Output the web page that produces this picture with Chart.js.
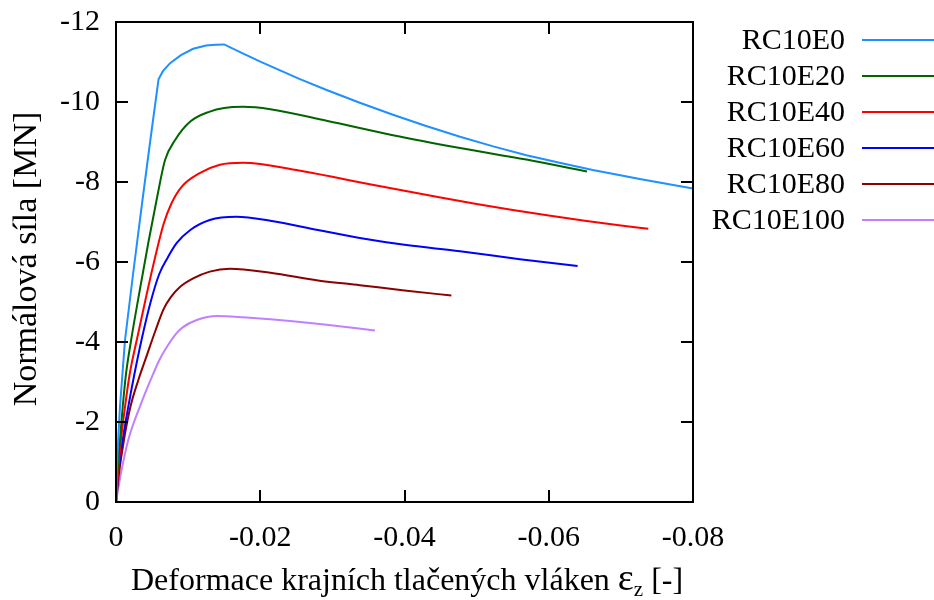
<!DOCTYPE html>
<html>
<head>
<meta charset="utf-8">
<script src="https://cdn.jsdelivr.net/npm/chart.js@4/dist/chart.umd.min.js"></script>
<style>
  html, body { margin: 0; padding: 0; background: #fff; }
  #wrap { width: 934px; height: 600px; }
</style>
</head>
<body>
<div id="wrap"><canvas id="chart" width="934" height="600"></canvas></div>
<script>
// ------------------- Data (strain [-], force [MN]) -------------------
const seriesNames = ["RC10E0", "RC10E20", "RC10E40", "RC10E60", "RC10E80", "RC10E100"];
const seriesColors = ["#1e90ff", "#006400", "#ff0000", "#0000ff", "#8b0000", "#c080ff"];

const xTicks = [0, -0.02, -0.04, -0.06, -0.08];
const yTicks = [0, -2, -4, -6, -8, -10, -12];

const e0 = [
  [0, 0], [-0.0001, -0.72], [-0.0003, -1.55], [-0.00055, -2.38], [-0.0009, -3.22],
  [-0.00125, -4.05], [-0.0024, -5.75], [-0.0036, -7.45], [-0.0048, -9.1], [-0.0059, -10.57],
  [-0.0065, -10.77], [-0.0075, -10.97], [-0.009, -11.17], [-0.0107, -11.33], [-0.0125, -11.41],
  [-0.0138, -11.43], [-0.015, -11.44], [-0.0175, -11.22], [-0.02, -11.01], [-0.0255, -10.57],
  [-0.0292, -10.3], [-0.0338, -9.98], [-0.0384, -9.68], [-0.043, -9.4], [-0.0477, -9.13],
  [-0.0523, -8.89], [-0.0569, -8.67], [-0.0615, -8.48], [-0.0661, -8.3], [-0.073, -8.06],
  [-0.08, -7.84]
];
const e20 = [
  [0, 0], [-0.00018, -0.72], [-0.00055, -1.55], [-0.00093, -2.38], [-0.0014, -3.22],
  [-0.0021, -4.05], [-0.0033, -5.3], [-0.0045, -6.5], [-0.0057, -7.62], [-0.0068, -8.55],
  [-0.0082, -9.05], [-0.0103, -9.51], [-0.013, -9.76], [-0.015, -9.85], [-0.0176, -9.88],
  [-0.0214, -9.82], [-0.0292, -9.53], [-0.0384, -9.17], [-0.0477, -8.85], [-0.0569, -8.56],
  [-0.0653, -8.26]
];
const e40 = [
  [0, 0], [-0.00028, -0.72], [-0.00069, -1.55], [-0.00125, -2.38], [-0.0019, -3.2],
  [-0.003, -4.15], [-0.0042, -5.15], [-0.0054, -6.1], [-0.0066, -6.95], [-0.0077, -7.47],
  [-0.0091, -7.88], [-0.0116, -8.22], [-0.0144, -8.43], [-0.0176, -8.48], [-0.02, -8.45],
  [-0.025, -8.3], [-0.03, -8.13], [-0.035, -7.95], [-0.04, -7.78], [-0.045, -7.61],
  [-0.05, -7.45], [-0.055, -7.3], [-0.06, -7.16], [-0.065, -7.03], [-0.07, -6.91], [-0.0738, -6.83]
];
const e60 = [
  [0, 0], [-0.00032, -0.72], [-0.00093, -1.55], [-0.0017, -2.38], [-0.0025, -3.15],
  [-0.0036, -4.1], [-0.0048, -5.0], [-0.006, -5.7], [-0.0072, -6.12], [-0.0084, -6.47],
  [-0.0103, -6.8], [-0.013, -7.05], [-0.0167, -7.13], [-0.0214, -7.03], [-0.028, -6.8],
  [-0.0338, -6.6], [-0.04, -6.43], [-0.0477, -6.27], [-0.056, -6.07], [-0.064, -5.9]
];
const e80 = [
  [0, 0], [-0.00042, -0.72], [-0.0011, -1.55], [-0.002, -2.38], [-0.0031, -3.05],
  [-0.0043, -3.68], [-0.0055, -4.3], [-0.0066, -4.82], [-0.0076, -5.12], [-0.0089, -5.38],
  [-0.0107, -5.59], [-0.013, -5.76], [-0.0158, -5.83], [-0.0214, -5.73], [-0.028, -5.54],
  [-0.0338, -5.42], [-0.04, -5.29], [-0.0465, -5.16]
];
const e100 = [
  [0, 0], [-0.00069, -0.72], [-0.0017, -1.55], [-0.0033, -2.38], [-0.0052, -3.22],
  [-0.0061, -3.58], [-0.0072, -3.92], [-0.0082, -4.18], [-0.0092, -4.36], [-0.0112, -4.55],
  [-0.014, -4.65], [-0.0176, -4.62], [-0.0214, -4.57], [-0.0292, -4.43], [-0.0359, -4.29]
];
const seriesData = [e0, e20, e40, e60, e80, e100];
// RC10E0 has sharp corners (end of elastic part, peak), so it is drawn as a polyline
const seriesSmooth = [false, true, true, true, true, true];

const FONT = "'Liberation Serif', 'Times New Roman', serif";

// ------------------- Frame, mirrored inward ticks, titles, legend -------------------
const gnuplotLook = {
  id: "gnuplotLook",
  afterDraw(chart) {
    const { ctx, chartArea: a, scales } = chart;
    const tick = 12;
    ctx.save();
    ctx.strokeStyle = "#000";
    ctx.lineWidth = 2;
    ctx.beginPath();
    xTicks.forEach(v => {
      const px = Math.round(scales.x.getPixelForValue(v));
      ctx.moveTo(px, a.bottom); ctx.lineTo(px, a.bottom - tick);
      ctx.moveTo(px, a.top); ctx.lineTo(px, a.top + tick);
    });
    yTicks.forEach(v => {
      const py = Math.round(scales.y.getPixelForValue(v));
      ctx.moveTo(a.left, py); ctx.lineTo(a.left + tick, py);
      ctx.moveTo(a.right, py); ctx.lineTo(a.right - tick, py);
    });
    ctx.stroke();
    ctx.strokeRect(a.left, a.top, a.right - a.left, a.bottom - a.top);

    ctx.fillStyle = "#000";
    // y title
    ctx.save();
    ctx.translate(27, 259);
    ctx.rotate(-Math.PI / 2);
    ctx.font = "34px " + FONT;
    ctx.textAlign = "center";
    ctx.textBaseline = "middle";
    ctx.fillText("Normálová síla [MN]", 0, 0);
    ctx.restore();

    // x title with subscript
    const part1 = "Deformace krajních tlačených vláken ";
    const eps = "ε";
    const sub = "z";
    const part2 = " [-]";
    const big = "32px " + FONT, epsF = "38px " + FONT, small = "21px " + FONT;
    ctx.textBaseline = "alphabetic";
    ctx.textAlign = "left";
    let x = 131;
    const base = 590;
    ctx.font = big; ctx.fillText(part1, x, base); x += ctx.measureText(part1).width;
    ctx.font = epsF; ctx.fillText(eps, x, base); x += ctx.measureText(eps).width;
    ctx.font = small; ctx.fillText(sub, x, base + 6); x += ctx.measureText(sub).width;
    ctx.font = big; ctx.fillText(part2, x, base);

    // legend
    ctx.font = "30px " + FONT;
    ctx.textAlign = "right";
    ctx.textBaseline = "middle";
    chart.data.datasets.forEach((ds, i) => {
      const y = 40 + i * 36;
      ctx.fillStyle = "#000";
      ctx.fillText(ds.label, 845, y + 1);
      ctx.strokeStyle = ds.borderColor;
      ctx.lineWidth = 2;
      ctx.beginPath();
      ctx.moveTo(862, y); ctx.lineTo(934, y);
      ctx.stroke();
    });
    ctx.restore();
  }
};

new Chart(document.getElementById("chart"), {
  type: "scatter",
  data: {
    datasets: seriesNames.map((name, i) => ({
      label: name,
      data: seriesData[i].map(p => ({ x: p[0], y: p[1] })),
      showLine: true,
      borderColor: seriesColors[i],
      backgroundColor: seriesColors[i],
      borderWidth: 2,
      pointRadius: 0,
      cubicInterpolationMode: seriesSmooth[i] ? "monotone" : "default",
      tension: 0,
      fill: false
    }))
  },
  options: {
    responsive: false,
    animation: false,
    devicePixelRatio: 1,
    layout: { padding: { top: 22, right: 241, left: 0, bottom: 0 } },
    plugins: { legend: { display: false }, tooltip: { enabled: false } },
    scales: {
      x: {
        type: "linear", reverse: true, min: -0.08, max: 0,
        afterFit(s) { s.height = 98; s.paddingLeft = 0; s.paddingRight = 0; },
        afterBuildTicks(s) { s.ticks = xTicks.map(v => ({ value: v })); },
        grid: { display: false, drawTicks: false },
        border: { display: false },
        ticks: {
          padding: 18, color: "#000",
          font: { family: FONT, size: 30 },
          callback: v => v === 0 ? "0" : v.toFixed(2)
        }
      },
      y: {
        type: "linear", reverse: true, min: -12, max: 0,
        afterFit(s) { s.width = 116; s.paddingTop = 0; s.paddingBottom = 0; },
        afterBuildTicks(s) { s.ticks = yTicks.map(v => ({ value: v })); },
        grid: { display: false, drawTicks: false },
        border: { display: false },
        ticks: {
          padding: 16, color: "#000",
          font: { family: FONT, size: 30 },
          callback: v => String(v)
        }
      }
    }
  },
  plugins: [gnuplotLook]
});
</script>
</body>
</html>
